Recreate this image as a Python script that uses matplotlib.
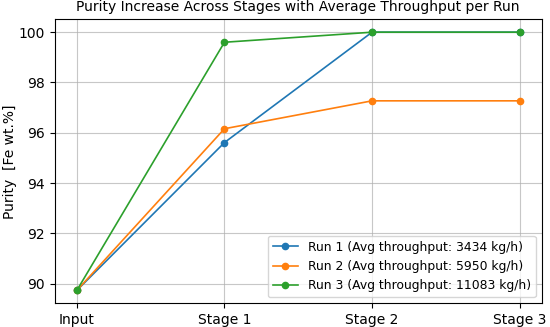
import matplotlib
matplotlib.use("Agg")
import matplotlib.pyplot as plt

stages = ["Input", "Stage 1", "Stage 2", "Stage 3"]
run1 = [89.73, 95.61, 100.0, 100.0]
run2 = [89.73, 96.16, 97.27, 97.27]
run3 = [89.73, 99.60, 100.0, 100.0]
throughputs = [3434, 5950, 11083]

fig = plt.figure(figsize=(5.5, 3.27), dpi=100)
ax = fig.add_axes([0.0995, 0.0725, 0.8855, 0.8685])

for i, vals in enumerate([run1, run2, run3]):
    ax.plot(stages, vals, marker="o", ms=4.5, lw=1.2,
            label=f"Run {i+1} (Avg throughput: {throughputs[i]} kg/h)")

ax.set_title("Purity Increase Across Stages with Average Throughput per Run", fontsize=10)
ax.set_ylabel("Purity  [Fe wt.%]", fontsize=10, labelpad=1)
ax.tick_params(labelsize=10)
ax.grid(alpha=0.7)
ax.legend(loc="lower right", fontsize=8.9)

fig.savefig("out.png", dpi=100)
